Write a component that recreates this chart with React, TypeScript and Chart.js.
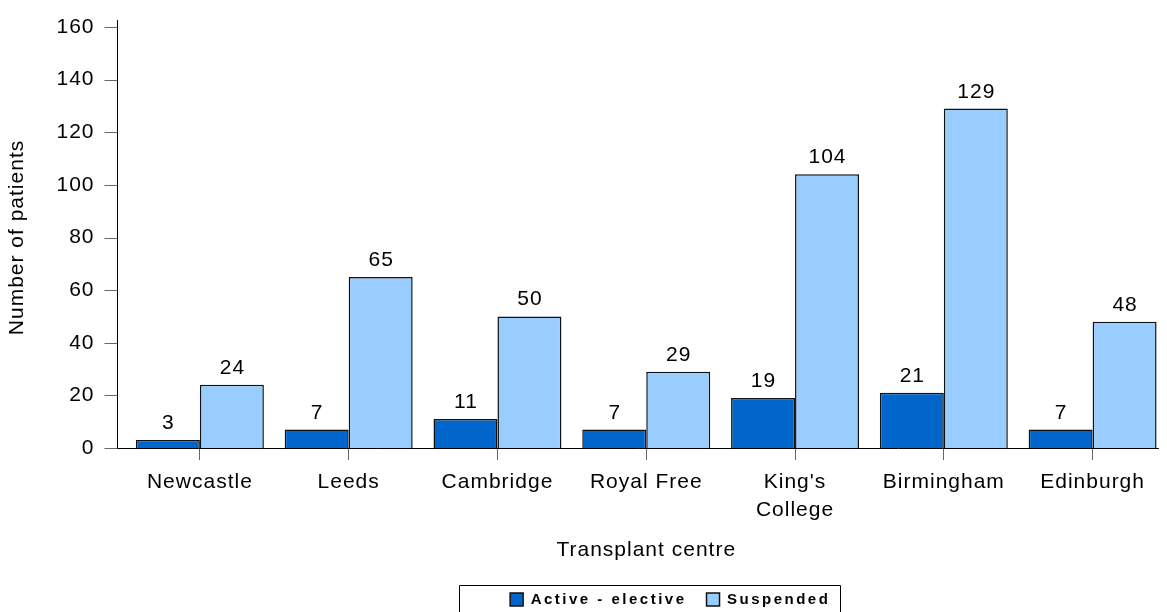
import { useEffect, useRef } from 'react';
import { Chart, registerables } from 'chart.js';

Chart.register(...registerables);

const categories: (string | string[])[] = [
  'Newcastle',
  'Leeds',
  'Cambridge',
  'Royal Free',
  ["King's", 'College'],
  'Birmingham',
  'Edinburgh',
];
const activeElective = [3, 7, 11, 7, 19, 21, 7];
const suspended = [24, 65, 50, 29, 104, 129, 48];
const seriesLabels = ['Active - elective', 'Suspended'];
const yMin = 0;
const yMax = 160;
const yStep = 20;
const yTitle = 'Number of patients';
const xTitle = 'Transplant centre';

const FONT = '"Liberation Sans", Arial, sans-serif';
const AXIS_SP = '1px';
const LEG_SP = '2.5px';

const spacingPlugin = {
  id: 'spacing',
  beforeUpdate(chart: any) { chart.ctx.letterSpacing = AXIS_SP; },
  beforeLayout(chart: any) {
    chart.ctx.letterSpacing = AXIS_SP;
    const lg = chart.legend;
    if (lg && !lg.__patched) {
      const fit = lg.fit.bind(lg);
      lg.fit = () => {
        chart.ctx.letterSpacing = LEG_SP;
        fit();
        chart.ctx.letterSpacing = AXIS_SP;
      };
      const draw = lg.draw.bind(lg);
      lg.draw = (...a: any[]) => {
        chart.ctx.letterSpacing = LEG_SP;
        draw(...a);
        chart.ctx.letterSpacing = AXIS_SP;
      };
      lg.__patched = true;
    }
  },
  afterLayout(chart: any) {
    const lg = chart.legend;
    if (lg) {
      lg.left += 24;
      lg.right += 24;
    }
  },
  beforeDraw(chart: any) { chart.ctx.letterSpacing = AXIS_SP; },
};

const decorPlugin = {
  id: 'decor',
  afterDatasetsDraw(chart: any) {
    const { ctx, chartArea, scales } = chart;
    const y = scales.y;
    const axisX = chartArea.left - 8;
    const bottom = Math.round(chartArea.bottom) + 0.5;
    ctx.save();
    ctx.strokeStyle = '#666';
    ctx.lineWidth = 1;
    y.ticks.forEach((t: any) => {
      const py = Math.round(y.getPixelForValue(t.value)) + 0.5;
      ctx.beginPath();
      ctx.moveTo(axisX - 13, py);
      ctx.lineTo(axisX, py);
      ctx.stroke();
    });
    ctx.strokeStyle = '#000';
    ctx.beginPath();
    ctx.moveTo(axisX, chartArea.top - 7);
    ctx.lineTo(axisX, bottom);
    ctx.lineTo(chartArea.right - 8, bottom);
    ctx.stroke();
    ctx.fillStyle = '#000';
    ctx.font = `21px ${FONT}`;
    ctx.letterSpacing = AXIS_SP;
    ctx.textAlign = 'center';
    ctx.textBaseline = 'alphabetic';
    chart.data.datasets.forEach((ds: any, di: number) => {
      const meta = chart.getDatasetMeta(di);
      meta.data.forEach((el: any, i: number) => {
        ctx.fillText(String(ds.data[i]), el.x + 0.5, el.y - 11);
      });
    });
    ctx.restore();
  },
  afterDraw(chart: any) {
    const lg = chart.legend;
    if (!lg || !lg.legendHitBoxes || !lg.legendHitBoxes.length) return;
    const hb = lg.legendHitBoxes;
    const first = hb[0];
    const last = hb[hb.length - 1];
    const { ctx } = chart;
    ctx.save();
    ctx.strokeStyle = '#000';
    ctx.lineWidth = 1;
    const l = Math.round(first.left - 51) + 0.5;
    const r = Math.round(last.left + last.width + 10) + 0.5;
    const t = Math.round(lg.top + 13) + 0.5;
    ctx.beginPath();
    ctx.moveTo(l, chart.height + 2);
    ctx.lineTo(l, t);
    ctx.lineTo(r, t);
    ctx.lineTo(r, chart.height + 2);
    ctx.stroke();
    ctx.restore();
  },
};

export default function App() {
  const ref = useRef<HTMLCanvasElement>(null);
  useEffect(() => {
    document.body.style.margin = '0';
    const canvas = ref.current;
    if (!canvas) return;
    const chart = new Chart(canvas, {
      type: 'bar',
      data: {
        labels: categories as any,
        datasets: [
          {
            label: seriesLabels[0],
            data: activeElective,
            backgroundColor: '#0066CC',
            borderColor: '#111',
            borderWidth: 1.5,
            barPercentage: 1,
            categoryPercentage: 0.86,
          },
          {
            label: seriesLabels[1],
            data: suspended,
            backgroundColor: '#99CCFF',
            borderColor: '#111',
            borderWidth: 1.5,
            barPercentage: 1,
            categoryPercentage: 0.86,
          },
        ],
      },
      options: {
        responsive: false,
        animation: false,
        devicePixelRatio: 1,
        layout: { padding: { top: 27, right: -1.5, bottom: 0, left: 0 } },
        plugins: {
          title: { display: false },
          tooltip: { enabled: false },
          legend: {
            display: true,
            position: 'bottom',
            fullSize: false,
            maxHeight: 40,
            labels: {
              boxWidth: 13,
              boxHeight: 13,
              padding: 20,
              color: '#000',
              font: { family: FONT, size: 15, weight: 'bold' },
            },
          },
        },
        scales: {
          x: {
            offset: true,
            border: { display: false },
            grid: {
              display: true,
              drawOnChartArea: false,
              drawTicks: true,
              tickLength: 12,
              color: '#666',
              offset: false,
            },
            ticks: {
              color: '#000',
              font: { family: FONT, size: 21, lineHeight: 1.35 },
              padding: 8,
              maxRotation: 0,
              autoSkip: false,
            },
            title: {
              display: true,
              text: xTitle,
              color: '#000',
              font: { family: FONT, size: 21 },
              padding: { top: 0, bottom: 9.4 },
            },
            afterFit(scale: any) {
              scale.height = 124;
            },
          },
          y: {
            min: yMin,
            max: yMax,
            border: { display: false },
            grid: { display: false, drawTicks: false },
            ticks: {
              stepSize: yStep,
              color: '#000',
              font: { family: FONT, size: 21 },
              padding: 31,
            },
            title: {
              display: true,
              text: yTitle,
              color: '#000',
              font: { family: FONT, size: 21 },
              padding: { top: 5, bottom: 0 },
            },
            afterFit(scale: any) {
              scale.width = 125.5;
              scale.paddingTop = 0;
              scale.paddingBottom = 0;
            },
          },
        },
      },
      plugins: [spacingPlugin, decorPlugin],
    } as any);
    return () => chart.destroy();
  }, []);
  return (
    <canvas
      ref={ref}
      width={1167}
      height={612}
      style={{ display: 'block', width: 1167, height: 612 }}
    />
  );
}
